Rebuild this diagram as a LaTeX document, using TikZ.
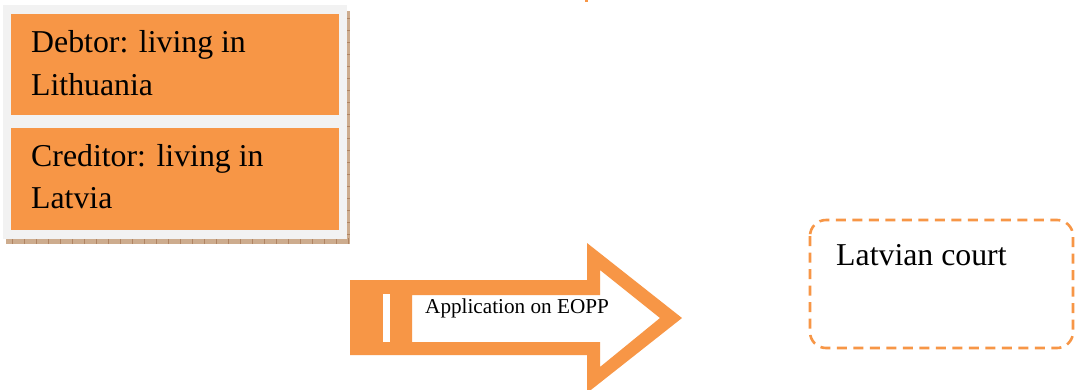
\documentclass[tikz,border=0pt]{standalone}
\usepackage{fontspec}
\setmainfont{Liberation Serif}
\definecolor{accent}{RGB}{247,150,70}
\definecolor{panel}{RGB}{242,242,242}
\definecolor{shadowtan}{RGB}{205,172,142}
\definecolor{shadowline}{RGB}{176,132,98}
\begin{document}
\begin{tikzpicture}[x=1pt,y=-1pt,
  orangebox/.style={fill=accent,draw=none},
  bigtext/.style={font=\fontsize{31.8}{36}\selectfont,inner sep=0pt,anchor=base west},
  smalltext/.style={font=\fontsize{21.2}{25}\selectfont,inner sep=0pt,anchor=base west},
  courtbox/.style={draw=accent,line width=2.6pt,dash pattern=on 10pt off 6.5pt,rounded corners=16pt}]
\useasboundingbox[fill=white] (0,0) rectangle (1076,389);

% textured drop shadow behind the panel
\fill[shadowtan] (6,238) rectangle (350,244);
\fill[shadowtan] (346,11) rectangle (350,244);
\foreach \x in {12,24,...,348} \draw[shadowline,line width=0.4pt] (\x,238) -- (\x,244);
\foreach \y in {18,30,...,236} \draw[shadowline,line width=0.4pt] (346,\y) -- (350,\y);

% light panel holding the two parties
\fill[panel] (3,5) rectangle (347,239);
\fill[orangebox] (11,14) rectangle (339,115);
\fill[orangebox] (11,128) rectangle (339,230);
\node[bigtext] (deb1) at (31,52) {Debtor: living in};
\node[bigtext] (deb2) at (31,95) {Lithuania};
\node[bigtext] (cre1) at (31,166) {Creditor: living in};
\node[bigtext] (cre2) at (31,208) {Latvia};

% small mark at the top edge
\fill[accent] (585,0) rectangle (588,2);

% hollow block arrow
\fill[accent,even odd rule]
  (350,280) -- (587,280) -- (587,243) -- (682,318) -- (587,393) -- (587,355) -- (350,355) -- cycle
  (412,295) -- (600,295) -- (600,270) -- (660,318) -- (600,367) -- (600,342) -- (412,342) -- cycle;
\fill[white] (383,294) rectangle (390,342);
\node[smalltext] (app) at (425,313) {Application on EOPP};

% destination court
\draw[courtbox] (810,220) rectangle (1073,348);
\node[bigtext] (court) at (836,265) {Latvian court};
\end{tikzpicture}
\end{document}
